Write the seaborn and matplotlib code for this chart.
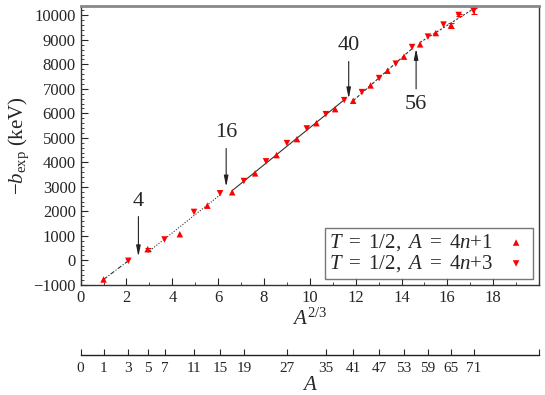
import numpy as np
import pandas as pd
import seaborn as sns
import matplotlib.pyplot as plt
from matplotlib.ticker import MultipleLocator, FixedLocator, NullFormatter

# mass numbers and -b_exp (keV)
A_4n1 = [1, 5, 9, 13, 17, 21, 25, 29, 33, 37, 41, 45, 49, 53, 57, 61, 65]
b_4n1 = [-782, 455, 1065, 2230, 2776, 3550, 4295, 4947, 5597, 6170,
         6513, 7139, 7740, 8313, 8816, 9278, 9593]
err_4n1 = [0, 60, 0, 0, 0, 0, 0, 0, 0, 0, 0, 0, 0, 0, 0, 0, 90]

A_4n3 = [3, 7, 11, 15, 19, 23, 27, 31, 35, 39, 43, 47, 51, 55, 59, 63, 67, 71]
b_4n3 = [-20, 850, 1974, 2735, 3236, 4039, 4784, 5383, 5965, 6538,
         6865, 7438, 8027, 8706, 9131, 9621, 10014, 10178]
err_4n3 = [0, 0, 0, 0, 0, 0, 0, 0, 0, 0, 0, 0, 0, 0, 0, 0, 40, 110]

# shell-closure segments (A ranges) fitted separately
segments = [(1, 3), (5, 15), (17, 39), (41, 55), (57, 71)]
seg_styles = [(0, (4, 1.5, 1, 1.5)), (0, (1, 1.5)), '-', (0, (3, 1.5)), (0, (2, 1.5))]

# magic numbers marked with arrows: (A, label y, arrow head y)
arrow_A = [4, 16, 40, 56]
arrow_text_y = [2420, 5200, 8750, 6360]
arrow_head_y = [150, 3000, 6600, 8640]

A_ticks = [0, 1, 3, 5, 7, 11, 15, 19, 27, 35, 41, 47, 53, 59, 65, 71]

sns.set_style('ticks')
plt.rcParams['font.family'] = 'serif'
plt.rcParams['font.serif'] = ['Liberation Serif', 'DejaVu Serif']
plt.rcParams['mathtext.fontset'] = 'custom'
plt.rcParams['mathtext.rm'] = 'Liberation Serif'
plt.rcParams['mathtext.it'] = 'Liberation Serif:italic'

df1 = pd.DataFrame({'A': A_4n1, 'b': b_4n1, 'err': err_4n1})
df3 = pd.DataFrame({'A': A_4n3, 'b': b_4n3, 'err': err_4n3})
df1['x'] = df1['A'] ** (2 / 3)
df3['x'] = df3['A'] ** (2 / 3)
df_all = pd.concat([df1, df3]).sort_values('A')

fig = plt.figure(figsize=(5.45, 3.95), dpi=100)
ax = fig.add_axes([0.148, 0.279, 0.841, 0.707])

# fit lines per segment
for (a0, a1), ls in zip(segments, seg_styles):
    sub = df_all[(df_all['A'] >= a0) & (df_all['A'] <= a1)]
    sns.regplot(data=sub, x='x', y='b', scatter=False, ci=None, truncate=True,
                ax=ax, line_kws={'color': '#333333', 'lw': 0.8, 'linestyle': ls})

lab1 = r'$T\ =\ \mathrm{1/2},\ A\ =\ \mathrm{4}n{+}\mathrm{1}$'
lab3 = r'$T\ =\ \mathrm{1/2},\ A\ =\ \mathrm{4}n{+}\mathrm{3}$'
for d, mk, lab in [(df1, '^', lab1), (df3, 'v', lab3)]:
    e = d[d['err'] > 0]
    ax.errorbar(e['x'], e['b'], yerr=e['err'], fmt='none', ecolor='red',
                elinewidth=0.8, capsize=2, capthick=0.8)
    sns.scatterplot(data=d, x='x', y='b', marker=mk, color='red', s=22,
                    edgecolor='none', ax=ax, label=lab, zorder=3)

for a, ty, hy in zip(arrow_A, arrow_text_y, arrow_head_y):
    xa = a ** (2 / 3)
    ax.annotate(str(a), xy=(xa, hy), xytext=(xa, ty), ha='center', va='center',
                fontsize=16,
                arrowprops=dict(arrowstyle='-|>,head_width=0.08,head_length=0.4',
                                color='#222222', lw=0.8, shrinkA=2, shrinkB=0))

ax.set_xlim(0, 20)
ax.set_ylim(-1000, 10400)
ax.xaxis.set_major_locator(FixedLocator(list(range(0, 20, 2))))
ax.xaxis.set_minor_locator(MultipleLocator(1))
ax.yaxis.set_major_locator(MultipleLocator(1000))
ax.yaxis.set_minor_locator(MultipleLocator(200))
ax.tick_params(which='both', direction='in', top=False, right=False, labelsize=12)
ax.tick_params(which='major', length=5, width=0.8)
ax.tick_params(which='minor', length=2.5, width=0.6)
ax.set_xlabel('$A^{2/3}$', fontsize=15, labelpad=2)
ax.set_ylabel(r'$-b_{\rm exp}$ (keV)', fontsize=15, labelpad=2)
for s in ['left', 'bottom', 'right']:
    ax.spines[s].set_color('#333333')
    ax.spines[s].set_linewidth(1.0)
ax.spines['top'].set_color('#888888')
ax.spines['top'].set_linewidth(2.0)

leg = ax.legend(loc='lower right', markerfirst=False, fontsize=15, frameon=True,
                fancybox=False, borderaxespad=0.3, handletextpad=0.5,
                labelspacing=0.0, borderpad=0.2, handlelength=1.2)
leg.get_frame().set_edgecolor('#555555')
leg.get_frame().set_linewidth(1.0)

# secondary A axis below
ax2 = fig.add_axes([0.148, 0.101, 0.841, 0.0001])
for s in ['left', 'right', 'top']:
    ax2.spines[s].set_visible(False)
ax2.spines['bottom'].set_color('#222222')
ax2.spines['bottom'].set_linewidth(1.0)
ax2.set_xlim(0, 20)
ax2.set_yticks([])
ax2.set_xticks([a ** (2 / 3) for a in A_ticks])
ax2.set_xticklabels([str(a) for a in A_ticks])
ax2.xaxis.set_minor_locator(FixedLocator([20]))
ax2.xaxis.set_minor_formatter(NullFormatter())
ax2.tick_params(which='both', direction='in', length=4, width=0.8, labelsize=11, pad=5)
ax2.set_xlabel('$A$', fontsize=15, labelpad=1)

fig.savefig('out.png', dpi=100)
